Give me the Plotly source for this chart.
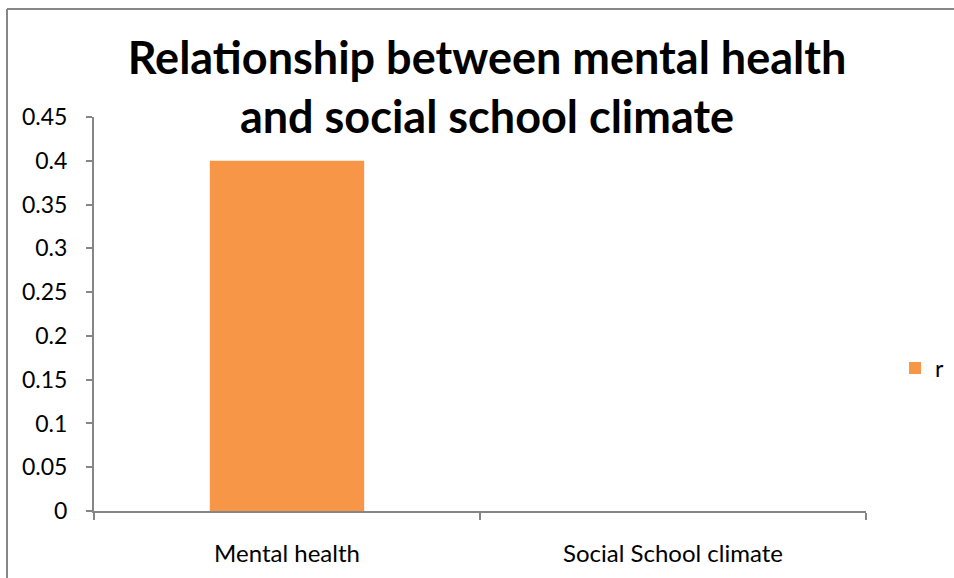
import plotly.graph_objects as go

categories = ["Mental health", "Social School climate"]
r_values = [0.4, None]
y_ticks = [0, 0.05, 0.1, 0.15, 0.2, 0.25, 0.3, 0.35, 0.4, 0.45]
y_tick_labels = ["0", "0.05", "0.1", "0.15", "0.2", "0.25", "0.3", "0.35", "0.4", "0.45"]

FONT = "Lato"
AXIS_COLOR = "#868686"

fig = go.Figure()
fig.add_trace(go.Bar(
    x=categories, y=r_values, name="r",
    marker=dict(color="#F79646", line=dict(width=0)),
    width=0.4,
))

fig.update_layout(
    width=954, height=578,
    margin=dict(l=94, r=88, t=117, b=67, autoexpand=False),
    paper_bgcolor="white", plot_bgcolor="white",
    font=dict(family=FONT, size=20, color="#000000"),
    title=dict(
        text="<b>Relationship between mental health<br>and social school climate</b>",
        x=487/954, xanchor="center", xref="container",
        y=1 - 74/578, yanchor="middle", yref="container",
        font=dict(family=FONT, size=45, color="#000000"),
    ),
    showlegend=True,
    legend=dict(
        x=(895 - 94) / 772, y=0.363, xanchor="left", yanchor="middle",
        font=dict(family=FONT, size=23), itemwidth=30,
        bgcolor="rgba(0,0,0,0)",
    ),
    bargap=0.6,
)

fig.update_xaxes(
    type="category", range=[-0.5, 1.5],
    showline=True, linecolor=AXIS_COLOR, linewidth=2,
    ticks="outside", tickson="boundaries", ticklen=7, tickwidth=2, tickcolor=AXIS_COLOR,
    showgrid=False, zeroline=False,
    tickfont=dict(family=FONT, size=24),
    ticklabelstandoff=20,
)
fig.update_yaxes(
    range=[0, 0.45], tickvals=y_ticks, ticktext=y_tick_labels,
    showline=True, linecolor=AXIS_COLOR, linewidth=2,
    ticks="outside", ticklen=6, tickwidth=2, tickcolor=AXIS_COLOR,
    showgrid=False, zeroline=False,
    tickfont=dict(family=FONT, size=23),
    ticklabelstandoff=14,
)

# outer chart border (partially visible, top and left)
fig.add_shape(type="line", xref="paper", yref="paper",
              x0=(7 - 94) / 772, x1=(1000 - 94) / 772,
              y0=1 + (117 - 9) / 394, y1=1 + (117 - 9) / 394,
              line=dict(color="#878787", width=2))
fig.add_shape(type="line", xref="paper", yref="paper",
              x0=(7 - 94) / 772, x1=(7 - 94) / 772,
              y0=1 + (117 - 9) / 394, y1=-(620 - 511) / 394,
              line=dict(color="#878787", width=2))

fig.write_html("out.html")
